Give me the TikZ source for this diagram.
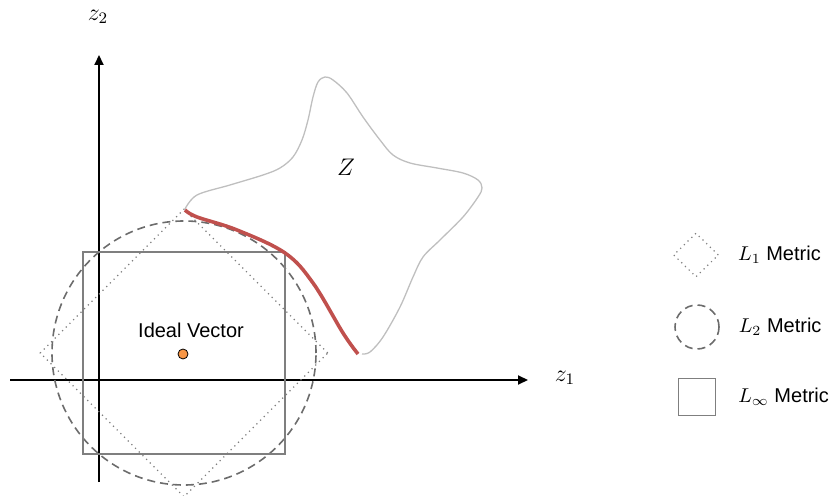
\documentclass[tikz,border=0pt]{standalone}
\usepackage{fontspec}
\newfontfamily\labelfont{Liberation Sans}
\usetikzlibrary{shapes.geometric, arrows.meta, positioning}
\definecolor{boundred}{HTML}{C0504D}
\definecolor{idealorange}{HTML}{F79646}
\definecolor{shapegray}{HTML}{7F7F7F}
\definecolor{outlinegray}{HTML}{BFBFBF}

\begin{document}
\begin{tikzpicture}[
    x=0.5pt, y=-0.5pt,
    axis/.style={draw, line width=1pt, -{Triangle[length=5pt, width=4.5pt]}},
    linfbox/.style={rectangle, draw=shapegray, line width=0.8pt, inner sep=0pt},
    ltwoball/.style={circle, draw=shapegray!85!black, dash pattern=on 4pt off 2.5pt, line width=0.8pt, inner sep=0pt},
    lonebox/.style={diamond, draw=shapegray, dotted, line width=0.6pt, inner sep=0pt},
    zoutline/.style={draw=outlinegray, line width=0.65pt},
    frontier/.style={draw=boundred, line width=1.8pt},
    idealdot/.style={circle, fill=idealorange, draw=black, line width=0.4pt, minimum size=5pt, inner sep=0pt},
    keytext/.style={font=\labelfont, anchor=west}
]

\path[use as bounding box] (0,0) rectangle (829,496);

% Axes
\coordinate (x0) at (10,380);
\coordinate (x1) at (528,380);
\coordinate (y0) at (99,482);
\coordinate (y1) at (99,55);
\draw[axis] (x0) -- (x1);
\draw[axis] (y0) -- (y1);
\node[font=\large] (z1) at (565,378) {$z_1$};
\node[font=\large] (z2) at (98,17) {$z_2$};

% Metric balls around the ideal vector
\coordinate (c) at (184,353);
\node[lonebox, minimum width=144pt, minimum height=144pt] (l1ball) at (c) {};
\node[ltwoball, minimum size=132pt] (l2ball) at (c) {};
\node[linfbox, minimum size=101pt] (linfball) at (c) {};

% Feasible set Z
\draw[zoutline] plot[smooth, tension=0.55] coordinates {
    (185,209) (197,195) (230,185) (263,175) (280,168) (293,157) (302,140)
    (308,120) (313,97) (318,82) (325,77) (333,80) (347,93) (363,117)
    (380,140) (393,155) (410,163) (437,168) (463,173) (478,180) (482,188)
    (478,197) (463,217) (440,240) (423,257) (413,277) (400,307) (383,337)
    (370,352) (362,354)};
\draw[frontier] plot[smooth, tension=0.6] coordinates {
    (358,354) (343,333) (313,283) (285,253) (237,230) (197,217) (185,210)};
\node[font=\large] (zlabel) at (346,167) {$Z$};

% Ideal vector
\node[idealdot] (ideal) at (183,354) {};
\node[font=\labelfont, above=2pt of ideal, xshift=4pt] (ideallabel) {Ideal Vector};

% Legend
\node[lonebox, minimum width=22.5pt, minimum height=22pt] (l1key) at (696,255) {};
\node[ltwoball, minimum size=22pt] (l2key) at (697,327) {};
\node[linfbox, minimum size=18.5pt] (linfkey) at (697,397) {};
\node[keytext, right=6pt of l1key] (l1text) {$L_1$ Metric};
\node[keytext, right=6pt of l2key] (l2text) {$L_2$ Metric};
\node[keytext, right=7.5pt of linfkey] (linftext) {$L_\infty$ Metric};

\end{tikzpicture}
\end{document}
